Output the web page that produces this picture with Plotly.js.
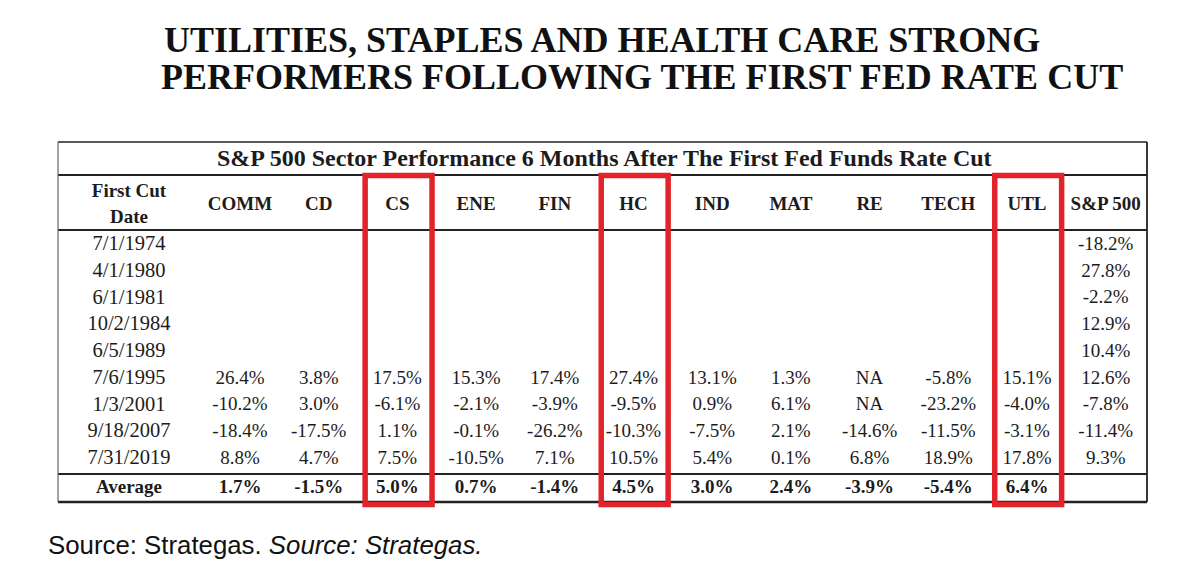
<!DOCTYPE html>
<html>
<head>
<meta charset="utf-8">
<script src="https://cdn.plot.ly/plotly-3.0.1.min.js"></script>
<style>html,body{margin:0;padding:0;background:#fff;}#chart{width:1200px;height:586px;}</style>
</head>
<body>
<div id="chart"></div>
<script>
// ---------------- DATA ----------------
const dates = ['7/1/1974','4/1/1980','6/1/1981','10/2/1984','6/5/1989','7/6/1995','1/3/2001','9/18/2007','7/31/2019'];
const sectors = ['COMM','CD','CS','ENE','FIN','HC','IND','MAT','RE','TECH','UTL','S&P 500'];
const COMM = [null,null,null,null,null, 26.4, -10.2, -18.4, 8.8];
const CD   = [null,null,null,null,null, 3.8, 3.0, -17.5, 4.7];
const CS   = [null,null,null,null,null, 17.5, -6.1, 1.1, 7.5];
const ENE  = [null,null,null,null,null, 15.3, -2.1, -0.1, -10.5];
const FIN  = [null,null,null,null,null, 17.4, -3.9, -26.2, 7.1];
const HC   = [null,null,null,null,null, 27.4, -9.5, -10.3, 10.5];
const IND  = [null,null,null,null,null, 13.1, 0.9, -7.5, 5.4];
const MAT  = [null,null,null,null,null, 1.3, 6.1, 2.1, 0.1];
const RE   = [null,null,null,null,null, 'NA', 'NA', -14.6, 6.8];
const TECH = [null,null,null,null,null, -5.8, -23.2, -11.5, 18.9];
const UTL  = [null,null,null,null,null, 15.1, -4.0, -3.1, 17.8];
const SP500 = [-18.2, 27.8, -2.2, 12.9, 10.4, 12.6, -7.8, -11.4, 9.3];
const averages = [1.7, -1.5, 5.0, 0.7, -1.4, 4.5, 3.0, 2.4, -3.9, -5.4, 6.4, null];
const highlighted = ['CS','HC','UTL'];

const mainTitle = ['UTILITIES, STAPLES AND HEALTH CARE STRONG', 'PERFORMERS FOLLOWING THE FIRST FED RATE CUT'];
const tableTitle = 'S&P 500 Sector Performance 6 Months After The First Fed Funds Rate Cut';
const dateHeader = ['First Cut', 'Date'];
const avgLabel = 'Average';

// ---------------- LAYOUT HELPERS ----------------
const W = 1200, H = 586;
const colStep = 78.7, col1Px = 240;     // px of column 1 and step
const rowStep = 26.75, row0Px = 245;    // px of row 0 and step
const dateCol = 1 + (129 - col1Px) / colStep;
const avgRow = 9.08;
const headRow = (205 - row0Px) / rowStep;
const px = v => v / W;
const py = v => 1 - v / H;

const columns = [COMM, CD, CS, ENE, FIN, HC, IND, MAT, RE, TECH, UTL, SP500];
const fmt = v => (v === null ? '' : (typeof v === 'string' ? v : v.toFixed(1) + '%'));

const serif = 'Liberation Serif, Times New Roman, serif';
const ink = '#1c1c1c';

// body cells
const bx = [], by = [], bt = [];
columns.forEach((col, ci) => {
  col.forEach((v, ri) => {
    if (v !== null) { bx.push(ci + 1); by.push(ri); bt.push(fmt(v)); }
  });
});
// date column
const dx = [], dy = [], dt = [];
dates.forEach((d, ri) => { dx.push(dateCol); dy.push(ri); dt.push(d); });

// header + averages (bold)
const hx = [], hy = [], ht = [];
sectors.forEach((s, ci) => { hx.push(ci + 1); hy.push(headRow); ht.push(s); });
averages.forEach((v, ci) => { if (v !== null) { hx.push(ci + 1); hy.push(avgRow); ht.push(fmt(v)); } });
hx.push(dateCol); hy.push(avgRow); ht.push(avgLabel);
hx.push(dateCol); hy.push((192 - row0Px) / rowStep); ht.push(dateHeader[0]);
hx.push(dateCol); hy.push((218 - row0Px) / rowStep); ht.push(dateHeader[1]);

const traces = [
  {type:'scatter', mode:'text', x:bx, y:by, text:bt, textposition:'middle center',
   textfont:{family:serif, size:19, color:ink}, hoverinfo:'skip', showlegend:false},
  {type:'scatter', mode:'text', x:dx, y:dy, text:dt, textposition:'middle center',
   textfont:{family:serif, size:20.5, color:ink}, hoverinfo:'skip', showlegend:false},
  {type:'scatter', mode:'text', x:hx, y:hy, text:ht.map(t => '<b>' + t + '</b>'), textposition:'middle center',
   textfont:{family:serif, size:19, color:ink}, hoverinfo:'skip', showlegend:false}
];

// table rules
const line = (x0, y0, x1, y1, w, c) => ({type:'line', xref:'paper', yref:'paper',
  x0:px(x0), y0:py(y0), x1:px(x1), y1:py(y1), line:{color:c || '#222', width:w}});
const shapes = [
  line(58, 142, 1147, 142, 1.5),
  line(58, 175, 1147, 175, 2),
  line(58, 230, 1147, 230, 2),
  line(58, 474, 1147, 474, 2),
  line(58, 502, 1147, 502, 2.5),
  line(58, 142, 58, 502, 1.2, '#666'),
  line(1147, 142, 1147, 502, 1.8)
];
highlighted.forEach(s => {
  const i = sectors.indexOf(s) + 1;
  shapes.push({type:'rect', xref:'x', yref:'paper', x0:i - 0.41, x1:i + 0.44,
    y0:py(504.5), y1:py(175.5), line:{color:'#e2232a', width:5.5}, fillcolor:'rgba(0,0,0,0)'});
});

const annotations = [
  {xref:'paper', yref:'paper', x:px(162), y:py(40), xanchor:'left', yanchor:'middle', showarrow:false,
   text:'<b>' + mainTitle[0] + '</b>', font:{family:serif, size:36, color:'#111'}},
  {xref:'paper', yref:'paper', x:px(159), y:py(77), xanchor:'left', yanchor:'middle', showarrow:false,
   text:'<b>' + mainTitle[1] + '</b>', font:{family:serif, size:36, color:'#111'}},
  {xref:'paper', yref:'paper', x:px(604), y:py(158), xanchor:'center', yanchor:'middle', showarrow:false,
   text:'<b>' + tableTitle + '</b>', font:{family:serif, size:24, color:ink}},
  {xref:'paper', yref:'paper', x:px(46), y:py(545), xanchor:'left', yanchor:'middle', showarrow:false,
   text:'Source: Strategas. <i>Source: Strategas.</i>', font:{family:'Liberation Sans, Arial, sans-serif', size:25.8, color:'#111'}}
];

const layout = {
  width: W, height: H,
  margin: {l:0, r:0, t:0, b:0},
  paper_bgcolor: '#fff', plot_bgcolor: '#fff',
  xaxis: {range:[1 - col1Px / colStep, 1 + (W - col1Px) / colStep], visible:false, fixedrange:true},
  yaxis: {range:[(H - row0Px) / rowStep, -row0Px / rowStep], visible:false, fixedrange:true},
  shapes: shapes,
  annotations: annotations,
  showlegend: false
};

Plotly.newPlot('chart', traces, layout, {displayModeBar:false, staticPlot:true});
</script>
</body>
</html>
